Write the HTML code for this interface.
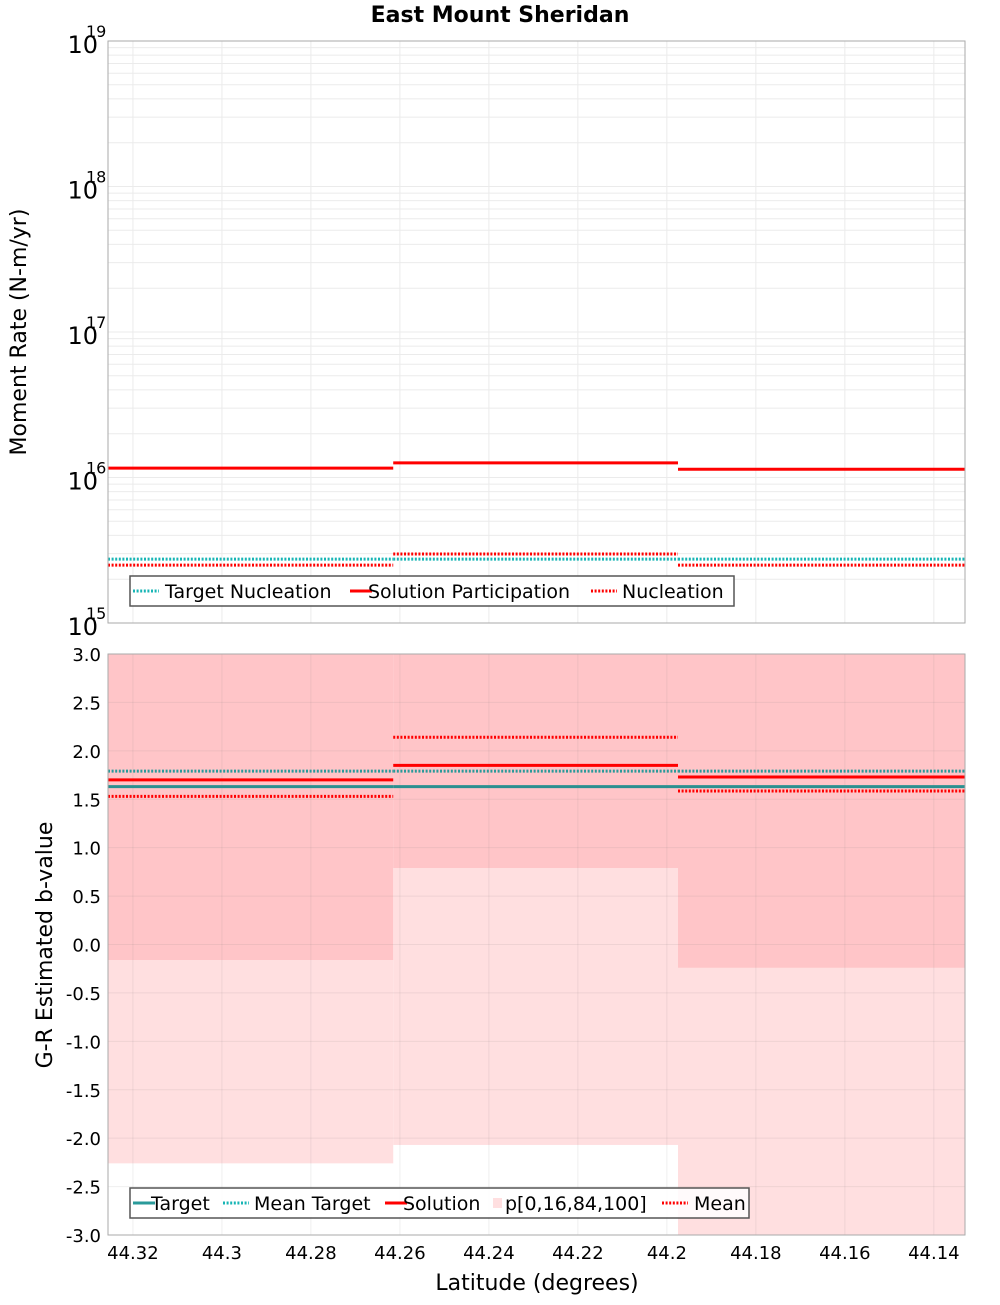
<!DOCTYPE html>
<html><head><meta charset="utf-8"><style>
html,body{margin:0;padding:0;background:#fff;}
svg text{font-family:"DejaVu Sans","Liberation Sans",sans-serif;}
</style></head><body>
<svg id="chart" width="1000" height="1300" xmlns="http://www.w3.org/2000/svg">
<text x="500" y="22" text-anchor="middle" font-size="22" font-weight="bold">East Mount Sheridan</text>
<text transform="translate(26,332) rotate(-90)" text-anchor="middle" font-size="22">Moment Rate (N-m/yr)</text>
<text transform="translate(52,945) rotate(-90)" text-anchor="middle" font-size="22">G-R Estimated b-value</text>
<text x="537" y="1290" text-anchor="middle" font-size="22">Latitude (degrees)</text>
<g id="topPanel"></g><g id="botPanel"></g>
</svg>
<script>
// segment boundaries (latitude)
const segStart = [44.3256, 44.2615, 44.1975];
const segEnd = [44.2615, 44.1975, 44.133];
const xTicks = [44.32, 44.3, 44.28, 44.26, 44.24, 44.22, 44.2, 44.18, 44.16, 44.14];
const xTickLabels = ["44.32","44.3","44.28","44.26","44.24","44.22","44.2","44.18","44.16","44.14"];
// top panel (moment rate)
const solutionParticipation = [1.16e16, 1.26e16, 1.14e16];
const targetNucleation = [2.75e15, 2.75e15, 2.75e15];
const nucleation = [2.5e15, 2.98e15, 2.5e15];
const logTicks = [15, 16, 17, 18, 19];
// bottom panel (b-value)
const bTarget = [1.63, 1.63, 1.63];
const bMeanTarget = [1.79, 1.79, 1.79];
const bSolution = [1.70, 1.85, 1.73];
const bMean = [1.53, 2.14, 1.585];
const p0 = [-2.26, -2.07, -3.3];
const p16 = [-0.16, 0.79, -0.24];
const p84 = [3.3, 3.3, 3.3];
const p100 = [3.3, 3.3, 3.3];
const bTicks = [3.0,2.5,2.0,1.5,1.0,0.5,0.0,-0.5,-1.0,-1.5,-2.0,-2.5,-3.0];
const bTickLabels = ["3.0","2.5","2.0","1.5","1.0","0.5","0.0","-0.5","-1.0","-1.5","-2.0","-2.5","-3.0"];

const NS="http://www.w3.org/2000/svg";
const L=108,R=965;
const xS=v=>L+(44.3256-v)/(44.3256-44.133)*(R-L);
const T1=41,B1=623, T2=654,B2=1235;
const yLog=v=>T1+(19-Math.log10(v))/4*(B1-T1);
const yB=v=>T2+(3-v)/6*(B2-T2);
function mk(p,tag,a){const e=document.createElementNS(NS,tag);for(const k in a)e.setAttribute(k,a[k]);p.appendChild(e);return e;}
const topG=document.getElementById('topPanel'), botG=document.getElementById('botPanel');

const cp1=mk(topG,'clipPath',{id:'c1'});mk(cp1,'rect',{x:L,y:T1,width:R-L,height:B1-T1});
const cp2=mk(botG,'clipPath',{id:'c2'});mk(cp2,'rect',{x:L,y:T2,width:R-L,height:B2-T2});
const g1=mk(topG,'g',{'clip-path':'url(#c1)'});


for(let d=15;d<19;d++)for(let m=1;m<10;m++){const y=yLog(m*Math.pow(10,d));
 const ln=mk(g1,'line',{x1:L,x2:R,y1:y,y2:y,stroke:'#ebebeb','stroke-width':1});
 
 }
xTicks.forEach(v=>{const ln=mk(g1,'line',{x1:xS(v),x2:xS(v),y1:T1,y2:B1,stroke:'#ebebeb'});
 
 });
function seg(g,arr,ys,color,w,dash,name){arr.forEach((v,i)=>{const a={x1:xS(segStart[i]),x2:xS(segEnd[i]),y1:ys(v),y2:ys(v),stroke:color,'stroke-width':w};if(dash)a['stroke-dasharray']=dash;const e=mk(g,'line',a);
 
 });}
seg(g1,targetNucleation,yLog,'#17b5b5',3,'2,1.6','target-nucleation');
seg(g1,nucleation,yLog,'#ff0000',3,'2,1.6','nucleation');
seg(g1,solutionParticipation,yLog,'#ff0000',3,null,'solution-participation');
const f1=mk(topG,'rect',{x:L,y:T1,width:R-L,height:B1-T1,fill:'none',stroke:'#aaa'});


logTicks.forEach(d=>{const y=yLog(Math.pow(10,d));const t=mk(topG,'text',{x:98,y:y+12,'text-anchor':'end','font-size':24});t.textContent='10';
 
 
 const s=mk(topG,'text',{x:86,y:y-4,'font-size':16});s.textContent=String(d);
 
 });

const g2=mk(botG,'g',{'clip-path':'url(#c2)'});


segStart.forEach((s,i)=>{const x1=xS(s),x2=xS(segEnd[i]);
 const a=mk(g2,'rect',{x:x1,width:x2-x1,y:yB(p100[i]),height:yB(p0[i])-yB(p100[i]),fill:'#ffdfe0'});
 
 
 const b=mk(g2,'rect',{x:x1,width:x2-x1,y:yB(p84[i]),height:yB(p16[i])-yB(p84[i]),fill:'#ffc5c8'});
 
 });
bTicks.forEach(v=>{const ln=mk(g2,'line',{x1:L,x2:R,y1:yB(v),y2:yB(v),stroke:'rgba(120,120,120,0.12)'});
 
 });
xTicks.forEach(v=>{const ln=mk(g2,'line',{x1:xS(v),x2:xS(v),y1:T2,y2:B2,stroke:'rgba(120,120,120,0.12)'});
 
 });
seg(g2,bMeanTarget,yB,'#2a9a9a',3,'2,1.6','mean-target');
seg(g2,bMean,yB,'#ff0000',3,'2,1.6','mean');
seg(g2,bSolution,yB,'#ff0000',3,null,'solution');
seg(g2,bTarget,yB,'#2a9090',3,null,'target');
const f2=mk(botG,'rect',{x:L,y:T2,width:R-L,height:B2-T2,fill:'none',stroke:'#aaa'});


bTicks.forEach((v,i)=>{const t=mk(botG,'text',{x:101,y:yB(v)+7,'text-anchor':'end','font-size':18});t.textContent=bTickLabels[i];
 
 });
xTicks.forEach((v,i)=>{const t=mk(botG,'text',{x:xS(v),y:1259,'text-anchor':'middle','font-size':18});t.textContent=xTickLabels[i];
 
 });

function legend(p,x,y,w,items,name){const g=mk(p,'g',{});
 
 
 mk(g,'rect',{x:x,y:y,width:w,height:30,fill:'rgba(255,255,255,0.85)',stroke:'#555','stroke-width':1.5});
 items.forEach(it=>{
  if(it.kind==='box'){mk(g,'rect',{x:it.x,y:y+10,width:9,height:10,fill:'#ffdfe0'});}
  else{const a={x1:it.x,x2:it.x+(it.dash?26:22),y1:y+15,y2:y+15,stroke:it.c,'stroke-width':3};if(it.dash)a['stroke-dasharray']='2,1.6';mk(g,'line',a);}
  const t=mk(g,'text',{x:it.tx,y:y+22,'font-size':19});t.textContent=it.label;
  
  });}
legend(topG,130,576,604,[
 {x:133,c:'#17b5b5',dash:1,tx:165,label:'Target Nucleation'},
 {x:350,c:'#ff0000',tx:368,label:'Solution Participation'},
 {x:591,c:'#ff0000',dash:1,tx:622,label:'Nucleation'}],'top-legend');
legend(botG,130,1188,619,[
 {x:133,c:'#2a9a9a',tx:151,label:'Target'},
 {x:223,c:'#17b5b5',dash:1,tx:254,label:'Mean Target'},
 {x:385,c:'#ff0000',tx:403,label:'Solution'},
 {x:493,kind:'box',tx:505,label:'p[0,16,84,100]'},
 {x:662,c:'#ff0000',dash:1,tx:694,label:'Mean'}],'bottom-legend');
</script>
</body></html>
